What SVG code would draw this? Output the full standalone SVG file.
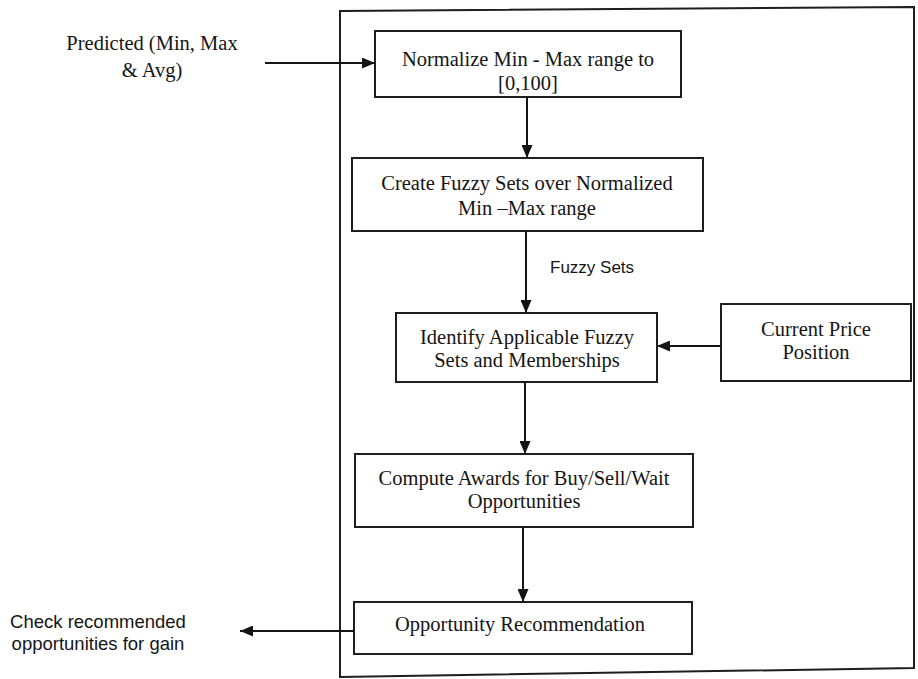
<svg xmlns="http://www.w3.org/2000/svg" width="918" height="679" viewBox="0 0 918 679">
<defs>
<marker id="ah" markerUnits="userSpaceOnUse" markerWidth="13" markerHeight="11" refX="13" refY="5.5" orient="auto">
<path d="M0,0 L13,5.5 L0,11 z" fill="#141414"/>
</marker>
</defs>
<style>
.box{fill:#fff;stroke:#1e1e1e;stroke-width:2}
.frame{fill:none;stroke:#1e1e1e;stroke-width:2}
.t{font-family:"Liberation Serif","Times New Roman",serif;font-size:20.5px;fill:#151515;text-anchor:middle}
.s{font-family:"Liberation Sans",Arial,sans-serif;fill:#151515}
.c{fill:none;stroke:#141414;stroke-width:2}
</style>
<rect width="918" height="679" fill="#fff"/>
<polygon class="frame" points="340,11 914,7 914,668 340,677"/>
<g id="input">
<text class="t" x="152" y="50" font-size="20">Predicted (Min, Max</text>
<text class="t" x="152" y="77" font-size="20">&amp; Avg)</text>
</g>
<g id="normalize">
<rect class="box" x="375" y="31" width="306" height="66"/>
<text class="t" x="528" y="66">Normalize Min - Max range to</text>
<text class="t" x="528" y="90">[0,100]</text>
</g>
<g id="create">
<rect class="box" x="352" y="158" width="351" height="73"/>
<text class="t" x="527" y="190">Create Fuzzy Sets over Normalized</text>
<text class="t" x="527" y="215">Min –Max range</text>
</g>
<g id="identify">
<rect class="box" x="396" y="313" width="261" height="69"/>
<text class="t" x="527" y="344">Identify Applicable Fuzzy</text>
<text class="t" x="527" y="367">Sets and Memberships</text>
</g>
<g id="price">
<rect class="box" x="721" y="304" width="190" height="77"/>
<text class="t" x="816" y="336">Current Price</text>
<text class="t" x="816" y="359">Position</text>
</g>
<g id="compute">
<rect class="box" x="355" y="454" width="338" height="73"/>
<text class="t" x="524" y="485">Compute Awards for Buy/Sell/Wait</text>
<text class="t" x="524" y="508">Opportunities</text>
</g>
<g id="recommend">
<rect class="box" x="354" y="602" width="338" height="52"/>
<text class="t" x="520" y="631">Opportunity Recommendation</text>
</g>
<g id="output">
<text class="s" x="98" y="628" font-size="18.5" text-anchor="middle">Check recommended</text>
<text class="s" x="98" y="650" font-size="18.5" text-anchor="middle">opportunities for gain</text>
</g>
<g id="connectors">
<line class="c" x1="265" y1="63" x2="375" y2="63" marker-end="url(#ah)"/>
<line class="c" x1="527" y1="97" x2="527" y2="158" marker-end="url(#ah)"/>
<line class="c" x1="526" y1="231" x2="526" y2="313" marker-end="url(#ah)"/>
<line class="c" x1="721" y1="346" x2="657" y2="346" marker-end="url(#ah)"/>
<line class="c" x1="525" y1="382" x2="525" y2="454" marker-end="url(#ah)"/>
<line class="c" x1="523" y1="527" x2="523" y2="602" marker-end="url(#ah)"/>
<line class="c" x1="354" y1="631" x2="240" y2="631" marker-end="url(#ah)"/>
<text class="s" x="550" y="273" font-size="17">Fuzzy Sets</text>
</g>
</svg>
